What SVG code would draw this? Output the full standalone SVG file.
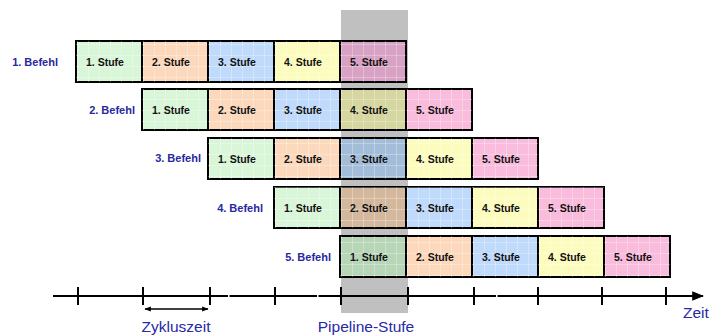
<svg xmlns="http://www.w3.org/2000/svg" width="712" height="336" viewBox="0 0 712 336">
  <defs>
    <pattern id="grid" width="11" height="11" patternUnits="userSpaceOnUse" x="0" y="0">
      <path d="M0 0.5H11M0.5 0V11" fill="none" stroke="#ffffff" stroke-opacity="0.28" stroke-width="1"/>
    </pattern>
    <marker id="tip" viewBox="0 0 10 10" refX="9" refY="5" markerWidth="6" markerHeight="6" orient="auto-start-reverse">
      <path d="M0 1L10 5L0 9z" fill="#000"/>
    </marker>
    <marker id="tipSmall" viewBox="0 0 10 10" refX="9" refY="5" markerWidth="5" markerHeight="5" orient="auto-start-reverse">
      <path d="M0 1L10 5L0 9z" fill="#000"/>
    </marker>
  </defs>
  <style>
    .box { stroke: #000; stroke-width: 2; }
    .grid { fill: url(#grid); stroke: none; }
    .s1 { fill: #d9f6d9; }
    .s2 { fill: #fcd9bc; }
    .s3 { fill: #bfdafa; }
    .s4 { fill: #fcfcbf; }
    .s5 { fill: #f9bcdc; }
    .h1 { fill: #b7d5b7; }
    .h2 { fill: #d4b89e; }
    .h3 { fill: #a3bdd8; }
    .h4 { fill: #d6d6a0; }
    .h5 { fill: #d8a2c4; }
    .stage { font-family: "Liberation Sans", Arial, sans-serif; font-size: 10.5px; font-weight: bold; fill: #111; }
    .cmd { font-family: "Liberation Sans", Arial, sans-serif; font-size: 11px; font-weight: bold; fill: #2828a0; text-anchor: end; }
    .lbl { font-family: "Liberation Sans", Arial, sans-serif; font-size: 15.5px; fill: #2828a8; }
    .axis { stroke: #000; stroke-width: 2; fill: none; }
  </style>

  <!-- highlighted pipeline stage column -->
  <rect x="341" y="10" width="67" height="303" fill="#c0c0c0"/>

  <!-- instruction rows -->
  <g id="befehl1">
    <text class="cmd" x="58" y="66">1. Befehl</text>
    <rect class="box s1" x="76" y="41" width="66" height="41"/><rect class="grid" x="76" y="41" width="66" height="41"/>
    <rect class="box s2" x="142" y="41" width="66" height="41"/><rect class="grid" x="142" y="41" width="66" height="41"/>
    <rect class="box s3" x="208" y="41" width="66" height="41"/><rect class="grid" x="208" y="41" width="66" height="41"/>
    <rect class="box s4" x="274" y="41" width="66" height="41"/><rect class="grid" x="274" y="41" width="66" height="41"/>
    <rect class="box h5" x="340" y="41" width="66" height="41"/><rect class="grid" x="340" y="41" width="66" height="41"/>
    <text class="stage" x="86" y="66">1. Stufe</text>
    <text class="stage" x="152" y="66">2. Stufe</text>
    <text class="stage" x="218" y="66">3. Stufe</text>
    <text class="stage" x="284" y="66">4. Stufe</text>
    <text class="stage" x="350" y="66">5. Stufe</text>
  </g>

  <g id="befehl2">
    <text class="cmd" x="135" y="114">2. Befehl</text>
    <rect class="box s1" x="142" y="89" width="66" height="41"/><rect class="grid" x="142" y="89" width="66" height="41"/>
    <rect class="box s2" x="208" y="89" width="66" height="41"/><rect class="grid" x="208" y="89" width="66" height="41"/>
    <rect class="box s3" x="274" y="89" width="66" height="41"/><rect class="grid" x="274" y="89" width="66" height="41"/>
    <rect class="box h4" x="340" y="89" width="66" height="41"/><rect class="grid" x="340" y="89" width="66" height="41"/>
    <rect class="box s5" x="406" y="89" width="66" height="41"/><rect class="grid" x="406" y="89" width="66" height="41"/>
    <text class="stage" x="152" y="114">1. Stufe</text>
    <text class="stage" x="218" y="114">2. Stufe</text>
    <text class="stage" x="284" y="114">3. Stufe</text>
    <text class="stage" x="350" y="114">4. Stufe</text>
    <text class="stage" x="416" y="114">5. Stufe</text>
  </g>

  <g id="befehl3">
    <text class="cmd" x="201" y="162">3. Befehl</text>
    <rect class="box s1" x="208" y="138" width="66" height="41"/><rect class="grid" x="208" y="138" width="66" height="41"/>
    <rect class="box s2" x="274" y="138" width="66" height="41"/><rect class="grid" x="274" y="138" width="66" height="41"/>
    <rect class="box h3" x="340" y="138" width="66" height="41"/><rect class="grid" x="340" y="138" width="66" height="41"/>
    <rect class="box s4" x="406" y="138" width="66" height="41"/><rect class="grid" x="406" y="138" width="66" height="41"/>
    <rect class="box s5" x="472" y="138" width="66" height="41"/><rect class="grid" x="472" y="138" width="66" height="41"/>
    <text class="stage" x="218" y="163">1. Stufe</text>
    <text class="stage" x="284" y="163">2. Stufe</text>
    <text class="stage" x="350" y="163">3. Stufe</text>
    <text class="stage" x="416" y="163">4. Stufe</text>
    <text class="stage" x="482" y="163">5. Stufe</text>
  </g>

  <g id="befehl4">
    <text class="cmd" x="263" y="212">4. Befehl</text>
    <rect class="box s1" x="274" y="187" width="66" height="41"/><rect class="grid" x="274" y="187" width="66" height="41"/>
    <rect class="box h2" x="340" y="187" width="66" height="41"/><rect class="grid" x="340" y="187" width="66" height="41"/>
    <rect class="box s3" x="406" y="187" width="66" height="41"/><rect class="grid" x="406" y="187" width="66" height="41"/>
    <rect class="box s4" x="472" y="187" width="66" height="41"/><rect class="grid" x="472" y="187" width="66" height="41"/>
    <rect class="box s5" x="538" y="187" width="66" height="41"/><rect class="grid" x="538" y="187" width="66" height="41"/>
    <text class="stage" x="284" y="212">1. Stufe</text>
    <text class="stage" x="350" y="212">2. Stufe</text>
    <text class="stage" x="416" y="212">3. Stufe</text>
    <text class="stage" x="482" y="212">4. Stufe</text>
    <text class="stage" x="548" y="212">5. Stufe</text>
  </g>

  <g id="befehl5">
    <text class="cmd" x="331" y="261">5. Befehl</text>
    <rect class="box h1" x="340" y="236" width="66" height="41"/><rect class="grid" x="340" y="236" width="66" height="41"/>
    <rect class="box s2" x="406" y="236" width="66" height="41"/><rect class="grid" x="406" y="236" width="66" height="41"/>
    <rect class="box s3" x="472" y="236" width="66" height="41"/><rect class="grid" x="472" y="236" width="66" height="41"/>
    <rect class="box s4" x="538" y="236" width="66" height="41"/><rect class="grid" x="538" y="236" width="66" height="41"/>
    <rect class="box s5" x="604" y="236" width="66" height="41"/><rect class="grid" x="604" y="236" width="66" height="41"/>
    <text class="stage" x="350" y="261">1. Stufe</text>
    <text class="stage" x="416" y="261">2. Stufe</text>
    <text class="stage" x="482" y="261">3. Stufe</text>
    <text class="stage" x="548" y="261">4. Stufe</text>
    <text class="stage" x="614" y="261">5. Stufe</text>
  </g>

  <!-- time axis with cycle ticks -->
  <g id="connectors">
    <path class="axis" d="M53 296H228M229.5 296H317M318.5 296H496M497.5 296H703" marker-end="url(#tip)"/>
    <path class="axis" d="M78 287V305M143 287V305M210 287V305M275 287V305M341 287V305M408 287V305M474 287V305M538 287V305M602 287V305M666 287V305"/>
    <line x1="145" y1="309" x2="208" y2="309" stroke="#000" stroke-width="1.3" marker-start="url(#tipSmall)" marker-end="url(#tipSmall)"/>
  </g>

  <g id="labels">
    <text class="lbl" x="176" y="332" text-anchor="middle">Zykluszeit</text>
    <text class="lbl" x="366" y="332" text-anchor="middle">Pipeline-Stufe</text>
    <text class="lbl" x="683" y="318">Zeit</text>
  </g>
</svg>
